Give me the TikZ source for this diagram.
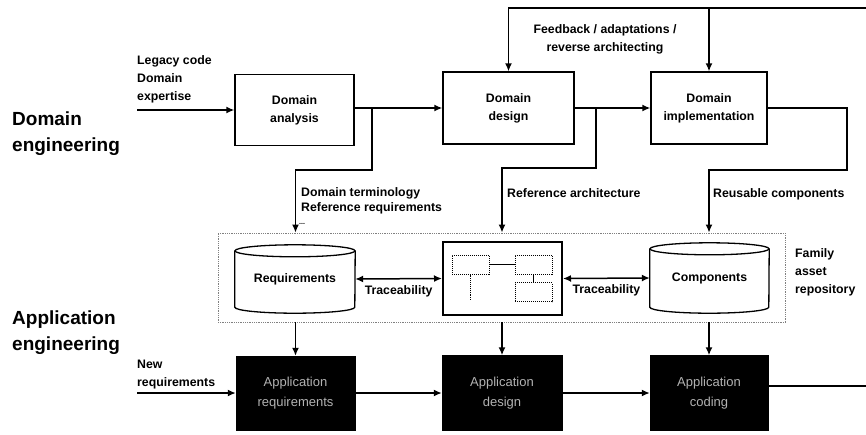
\documentclass[tikz,border=0pt]{standalone}
\usepackage{fontspec}
\setmainfont{Liberation Sans}
\usetikzlibrary{arrows.meta}
\begin{document}
\begin{tikzpicture}[x=1pt,y=-1pt,
  lbl/.style={font=\fontsize{12.3}{18}\selectfont\bfseries, align=left, inner sep=0pt},
  biglbl/.style={font=\fontsize{19}{26}\selectfont\bfseries, align=left, inner sep=0pt},
  stepbox/.style={draw, line width=1.3pt, align=center, inner sep=0pt,
    font=\fontsize{12.3}{18}\selectfont\bfseries},
  appbox/.style={draw=black, fill=black, align=center, inner sep=0pt,
    text=gray!60, font=\fontsize{13}{20}\selectfont},
  cyl/.style={line width=1.3pt},
  arr/.style={line width=1.5pt, -{Latex[length=8pt,width=7pt]}},
  darr/.style={line width=1.5pt, {Latex[length=8pt,width=7pt]}-{Latex[length=8pt,width=7pt]}},
  conn/.style={line width=1.3pt},
  mini/.style={draw, densely dotted, line width=1pt, minimum width=37pt, minimum height=19pt, inner sep=0pt}]
\useasboundingbox (0,0) rectangle (866,434);

% side titles
\node[biglbl, anchor=north west] (tde) at (12,112) {Domain\\engineering};
\node[biglbl, anchor=north west] (tae) at (12,311) {Application\\engineering};

% domain engineering steps
\node[stepbox, minimum width=119pt, minimum height=71pt] (da) at (294.5,110) {Domain\\analysis};
\node[stepbox, minimum width=131pt, minimum height=72pt] (dd) at (508.5,108) {Domain\\design};
\node[stepbox, minimum width=116pt, minimum height=72pt] (di) at (709,108) {Domain\\implementation};

% family asset repository
\node[draw=gray, densely dotted, line width=0.8pt, minimum width=567pt, minimum height=89pt, inner sep=0pt] (repo) at (501.5,277.5) {};
\node[lbl, anchor=north west] (fam) at (795,248) {Family\\asset\\repository};

% requirements store
\node[inner sep=0pt, minimum width=120pt, minimum height=56pt, font=\fontsize{12.3}{18}\selectfont\bfseries] (req) at (295,279) {Requirements};
\draw[cyl] (req.north west) -- (req.south west)
  arc[start angle=180, end angle=360, x radius=60pt, y radius=6pt] -- (req.north east);
\draw[cyl] (req.north) ellipse[x radius=60pt, y radius=6pt];

% components store
\node[inner sep=0pt, minimum width=119pt, minimum height=58pt, font=\fontsize{12.3}{18}\selectfont\bfseries] (comp) at (709.5,278) {Components};
\draw[cyl] (comp.north west) -- (comp.south west)
  arc[start angle=180, end angle=360, x radius=59.5pt, y radius=6pt] -- (comp.north east);
\draw[cyl] (comp.north) ellipse[x radius=59.5pt, y radius=6pt];

% reference architecture sketch
\node[draw, line width=2pt, minimum width=119pt, minimum height=73pt, inner sep=0pt] (arch) at (502.5,278.5) {};
\node[mini] (m1) at (470.5,264.5) {};
\node[mini] (m2) at (533.5,264.5) {};
\node[mini] (m3) at (533.5,292) {};
\coordinate (mend) at (470.5,300);
\draw[line width=0.9pt] (m1.east) -- (m2.west);
\draw[line width=0.9pt] (m2.south) -- (m3.north);
\draw[densely dotted, line width=0.9pt] (m1.south) -- (mend);

% traceability links
\draw[darr] (req.east) -- (arch.west)
  node[lbl, midway, below=6pt] (tr1) {Traceability};
\draw[darr] (arch.east) -- (comp.west)
  node[lbl, midway, below=6pt] (tr2) {Traceability};

% application engineering steps
\node[appbox, minimum width=119pt, minimum height=74pt] (ar) at (295.5,393) {Application\\requirements};
\node[appbox, minimum width=120pt, minimum height=75pt] (ad) at (502,393) {Application\\design};
\node[appbox, minimum width=118pt, minimum height=75pt] (ac) at (709,393) {Application\\coding};

% inputs
\node[lbl, anchor=north west] (legacy) at (137,55) {Legacy code\\Domain\\expertise};
\coordinate (lcin) at (137,110);
\draw[arr] (lcin) -- (da.west);

\node[lbl, anchor=north west] (newreq) at (137,360) {New\\requirements};
\coordinate (nrin) at (137,393);
\draw[arr] (nrin) -- (ar.west);

% domain flow
\draw[arr] (dd.west -| da.east) -- (dd.west);
\draw[arr] (dd.east) -- (di.west);

% outputs into the repository
\coordinate (j1) at (372,108);
\coordinate (b1) at (372,170);
\draw[arr] (j1) -- (b1) -| (ar.north |- repo.north);
\node[lbl, font=\fontsize{12.3}{15}\selectfont\bfseries, anchor=north west] (dterm) at (301,187) {Domain terminology\\Reference requirements};
\node[font=\fontsize{7}{8}\selectfont\bfseries, inner sep=0pt, anchor=west] (dots) at (299,224) {...};

\coordinate (j2) at (596,108);
\coordinate (b2) at (596,168);
\draw[arr] (j2) -- (b2) -| (ad.north |- repo.north);
\node[lbl, anchor=north west] (refarch) at (507,188) {Reference architecture};

\coordinate (r1) at (847,108);
\coordinate (r2) at (847,170);
\draw[arr] (di.east) -- (r1) -- (r2) -| (ac.north |- repo.north);
\node[lbl, anchor=north west] (reuse) at (713,188) {Reusable components};

% feedback loop
\coordinate (fb) at (866,8);
\draw[arr] (fb) -| (dd.north);
\draw[arr] (di.north |- fb) -- (di.north);
\node[lbl, align=center, anchor=north] (fbl) at (605,24) {Feedback / adaptations /\\reverse architecting};

% repository to application engineering
\draw[arr] (ar.north |- repo.south) -- (ar.north);
\draw[arr] (ad.north |- repo.south) -- (ad.north);
\draw[arr] (ac.north |- repo.south) -- (ac.north);

% application flow
\draw[arr] (ar.east) -- (ad.west);
\draw[arr] (ad.east) -- (ac.west);
\coordinate (out) at (866,386);
\draw[conn] (ac.east |- out) -- (out);
\end{tikzpicture}
\end{document}
